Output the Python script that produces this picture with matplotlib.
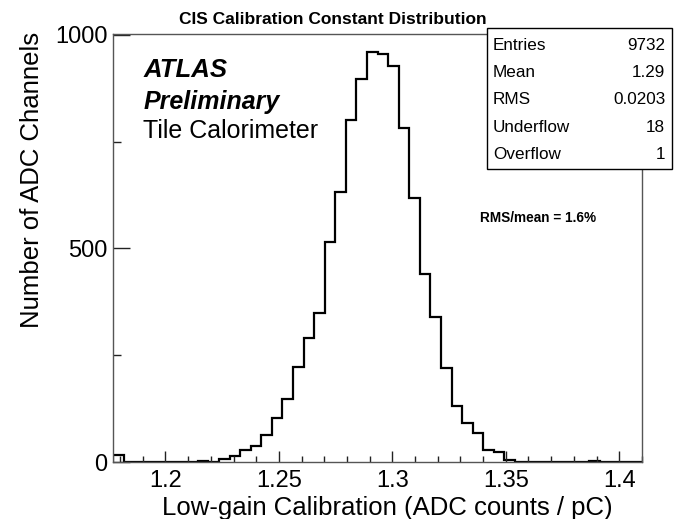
import numpy as np
import matplotlib.pyplot as plt
from matplotlib.ticker import MultipleLocator

plt.rcParams['font.family'] = ['Liberation Sans', 'DejaVu Sans']

# histogram: 50 bins between x_lo and x_hi
x_lo, x_hi = 1.177, 1.41
n_bins = 50
counts = [17, 0, 0, 0, 1, 0, 0, 0, 2, 0,
          7, 15, 27, 38, 63, 102, 147, 223, 291, 350,
          515, 633, 801, 897, 961, 955, 926, 783, 618, 439,
          339, 219, 130, 92, 67, 28, 23, 4, 1, 1,
          1, 1, 1, 1, 1, 2, 0, 0, 0, 0]
stat_names = ["Entries", "Mean", "RMS", "Underflow", "Overflow"]
stat_values = ["9732", "1.29", "0.0203", "18", "1"]

edges = np.linspace(x_lo, x_hi, n_bins + 1)

W, H = 676, 519
fig = plt.figure(figsize=(W / 100, H / 100), dpi=100)
ax = fig.add_axes([0.1676, 0.1098, 0.782, 0.8247])

ax.stairs(counts, edges, color='black', lw=1.6, baseline=0)

ax.set_xlim(x_lo, x_hi)
ax.set_ylim(0, 1002)
ax.xaxis.set_major_locator(MultipleLocator(0.05))
ax.xaxis.set_minor_locator(MultipleLocator(0.01))
ax.yaxis.set_major_locator(MultipleLocator(500))
ax.yaxis.set_minor_locator(MultipleLocator(250))
ax.set_xticks([1.2, 1.25, 1.3, 1.35, 1.4])
ax.set_xticklabels(["1.2", "1.25", "1.3", "1.35", "1.4"])

ax.tick_params(axis='both', which='both', direction='in', colors='#222222',
               labelsize=17, labelcolor='black', width=1)
ax.tick_params(axis='x', which='major', length=8, pad=6)
ax.tick_params(axis='x', which='minor', length=4.3)
ax.tick_params(axis='y', which='major', length=12, pad=4)
ax.tick_params(axis='y', which='minor', length=6)
for s in ax.spines.values():
    s.set_color('#555555')
    s.set_linewidth(1)

ax.set_xlabel("Low-gain Calibration (ADC counts / pC)", fontsize=18.5)
ax.set_ylabel("Number of ADC Channels", fontsize=18.5)
ax.xaxis.set_label_coords(0.518, -0.08)
ax.yaxis.set_label_coords(-0.131, 0.66)
fig.text(0.493, 1 - 20 / H, "CIS Calibration Constant Distribution",
         fontsize=12.5, fontweight='bold', ha='center', va='center')

ax.text(0.057, 0.915, "ATLAS", transform=ax.transAxes, fontsize=18.5,
        fontweight='bold', fontstyle='italic', va='center')
ax.text(0.057, 0.84, "Preliminary", transform=ax.transAxes, fontsize=18,
        fontweight='bold', fontstyle='italic', va='center')
ax.text(0.057, 0.773, "Tile Calorimeter", transform=ax.transAxes, fontsize=18,
        va='center')
fig.text(480 / W, 1 - 218 / H, "RMS/mean = 1.6%", fontsize=9.8,
         fontweight='bold', va='center')

# statistics box
bx0, bx1 = 487 / W, 672 / W
by0, by1 = 1 - 169 / H, 1 - 28 / H
fig.patches.append(plt.Rectangle((bx0, by0), bx1 - bx0, by1 - by0,
                                 transform=fig.transFigure, facecolor='white',
                                 edgecolor='black', lw=1, zorder=5))
row_y = [46, 72.5, 99.5, 127, 154.5]
for name, val, yy in zip(stat_names, stat_values, row_y):
    fig.text(bx0 + 0.009, 1 - yy / H, name, fontsize=12.3, va='center', ha='left', zorder=6)
    fig.text(bx1 - 0.01, 1 - yy / H, val, fontsize=12.3, va='center', ha='right', zorder=6)

fig.savefig("out.png", dpi=100)
